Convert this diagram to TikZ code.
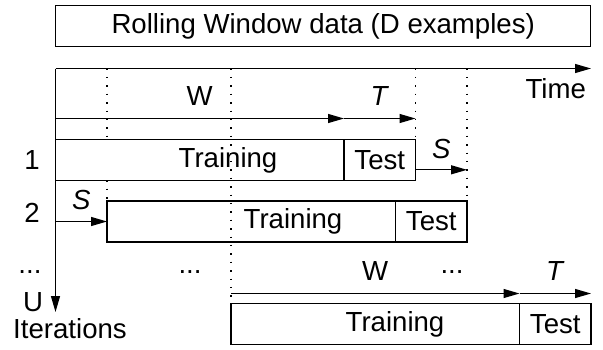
\documentclass[tikz,border=0pt]{standalone}
\usepackage{fontspec}
\setmainfont{Liberation Sans}
\usepackage{tikz}
\usetikzlibrary{arrows.meta,positioning,calc}

\tikzset{
  box/.style={draw, line width=0.6pt, inner sep=0pt, outer sep=0pt, minimum height=20.5pt, anchor=north west},
  trainbox/.style={box, minimum width=144.25pt},
  testbox/.style={box, minimum width=35.75pt},
  axis/.style={line width=0.6pt, -{Triangle[length=8pt,width=4.5pt]}},
  guide/.style={line width=0.6pt, dash pattern=on 0.7pt off 3.5pt},
}

\begin{document}
\begin{tikzpicture}[x=0.5pt, y=-0.5pt, font=\fontsize{13.8}{16}\selectfont]
    \useasboundingbox (0,0) rectangle (603,349);

    % Data box
    \node[draw, line width=0.6pt, minimum width=267.5pt, minimum height=20.7pt, inner sep=0pt] (data) at (323.2,26) {Rolling Window data (D examples)};

    % Axes
    \coordinate (o) at (55.5,68.5);
    \coordinate (tend) at (591,68.5);
    \coordinate (uend) at (55.5,312);
    \draw[axis] (o) -- (tend);
    \draw[axis] (o) -- (uend);
    \node[anchor=east] (time) at (593,89) {Time};
    \node (u) at (33,302) {U};
    \node (iter) at (70,329) {Iterations};

    % Windows
    \node[trainbox] (train1) at (55.5,139.3) {};
    \node[testbox] (test1) at (train1.north east) {Test};
    \node[trainbox] (train2) at (107,201) {};
    \node[testbox] (test2) at (train2.north east) {Test};
    \node[trainbox] (train3) at (231,303.3) {};
    \node[testbox] (test3) at (train3.north east) {Test};
    \node (lt1) at (228,160) {Training};
    \node (lt2) at (293,221.5) {Training};
    \node (lt3) at (395,324) {Training};

    % Iteration numbers
    \node (r1) at (32,160) {1};
    \node (r2) at (32,213) {2};
    \node (dots1) at (30,272) {...};
    \node (dots2) at (190,272) {...};
    \node (dots3) at (452,272) {...};

    % Guides
    \draw[guide] (o -| train2.north west) -- (train1.north west -| train2.north west);
    \draw[guide] (train1.south west -| train2.north west) -- (train2.north west);
    \draw[guide] (o -| train3.north west) -- (train3.north west);
    \draw[guide] (o -| test1.north east) -- (test1.north east);
    \draw[guide] (o -| test2.north east) -- (test2.north east);

    % W and T spans
    \coordinate (w1) at (55.5,118.5);
    \draw[axis] (w1) -- (w1 -| test1.north west) node[midway, above=3pt] {W};
    \draw[axis] (w1 -| test1.north west) -- (w1 -| test1.north east) node[midway, above=3pt] {\textit{T}};
    \coordinate (w3) at (231,293.5);
    \draw[axis] (w3) -- (w3 -| test3.north west) node[midway, above=3pt] {W};
    \draw[axis] (w3 -| test3.north west) -- (w3 -| test3.north east) node[midway, above=3pt] {\textit{T}};

    % Shifts
    \draw[axis] ([yshift=-5pt]test1.east) -- ([yshift=-5pt]test1.east -| test2.north east) node[midway, above=2pt] {\textit{S}};
    \draw[axis] (train2.west -| o) -- (train2.west) node[midway, above=2pt] {\textit{S}};
\end{tikzpicture}
\end{document}
